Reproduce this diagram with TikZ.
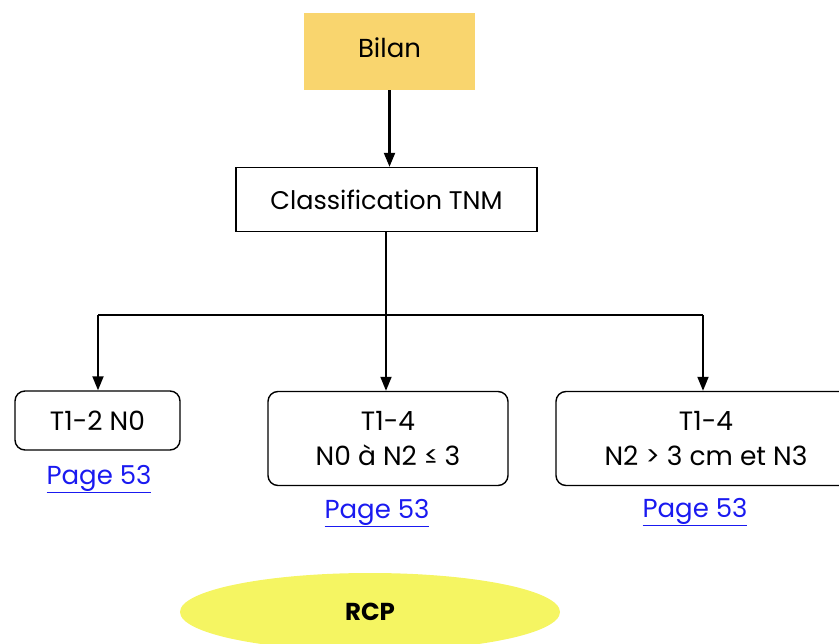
\documentclass[tikz,border=0pt]{standalone}
\usepackage{fontspec}
\setmainfont{Poppins}
\usetikzlibrary{arrows.meta,shapes.geometric}
\definecolor{bilanfill}{HTML}{F9D56E}
\definecolor{rcpfill}{HTML}{F5F562}
\definecolor{linkblue}{HTML}{1A1AF0}
\tikzset{
  box/.style={draw=black,line width=1.4pt,inner sep=0pt,align=center,font=\fontsize{25.5}{35}\selectfont},
  rbox/.style={box,rounded corners=10pt,font=\fontsize{26.5}{35}\selectfont},
  link/.style={text=linkblue,font=\fontsize{26}{30}\selectfont,inner sep=0pt},
  arr/.style={line width=1.8pt,-{Triangle[length=14pt,width=11pt]}},
  ln/.style={line width=1.8pt}
}
\begin{document}
\begin{tikzpicture}[x=1pt,y=-1pt]
\useasboundingbox (0,0) rectangle (839,644);
\node[fill=bilanfill,minimum width=171pt,minimum height=77pt,inner sep=0pt] (bilan) at (389.5,51.5) {};
\node[font=\fontsize{26}{30}\selectfont,inner sep=0pt] (bilant) at (389.5,47.5) {Bilan};
\node[box,minimum width=301pt,minimum height=64pt] (tnm) at (386.5,199.5) {Classification TNM};
\node[rbox,minimum width=165pt,minimum height=59pt,text depth=0pt,yshift=0pt] (a) at (97.5,420.5) {T1-2 N0};
\node[rbox,minimum width=240pt,minimum height=94pt] (b) at (388,438.5) {T1-4\\N0 à N2 ≤ 3};
\node[rbox,minimum width=300pt,minimum height=94pt] (c) at (706,438.5) {T1-4\\N2 > 3 cm et N3};
\node[link] (la) at (99,479) {\underline{Page 53}};
\node[link] (lb) at (377,513) {\underline{Page 53}};
\node[link] (lc) at (695,512) {\underline{Page 53}};
\node[ellipse,fill=rcpfill,minimum width=380pt,minimum height=78pt,inner sep=0pt,font=\fontsize{24.5}{28}\selectfont\bfseries] (rcp) at (370,612) {RCP};
\coordinate (j) at (386,315);
\coordinate (jl) at (98,315);
\coordinate (jr) at (703,315);
\draw[arr,line width=2.2pt] (bilan.south) -- (bilan.south |- tnm.north);
\draw[ln] (tnm.south -| j) -- (j);
\draw[ln] (jl) -- (jr);
\draw[arr] (jl) -- (jl |- a.north);
\draw[arr] (j) -- (j |- b.north);
\draw[arr] (jr) -- (jr |- c.north);
\end{tikzpicture}
\end{document}
